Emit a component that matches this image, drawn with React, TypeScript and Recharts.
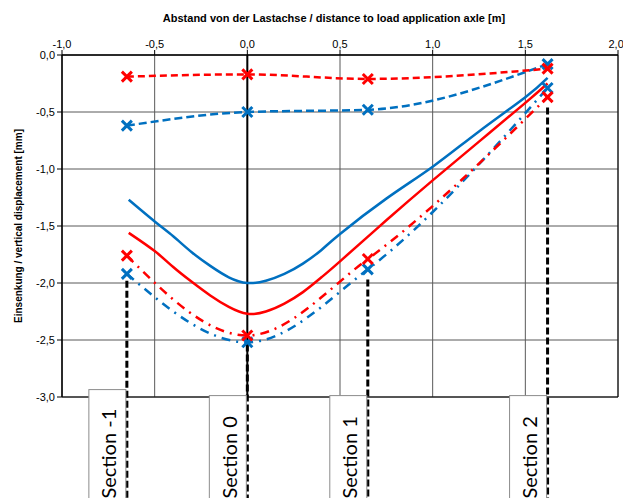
import { LineChart, Line, XAxis, YAxis, CartesianGrid, ReferenceLine, ReferenceArea } from 'recharts'

// ── Data ─────────────────────────────────────────────────────────────────────

const sectionX = [-0.65, 0, 0.65, 1.62]
const sectionNames = ['Section -1', 'Section 0', 'Section 1', 'Section 2']
const sectionStartY = [-1.98, -2.54, -1.97, -0.46]

// measured (markers)
const redDashed = [-0.19, -0.17, -0.21, -0.12]
const blueDashed = [-0.62, -0.5, -0.48, -0.08]
const redDashDot = [-1.76, -2.46, -1.79, -0.37]
const blueDashDot = [-1.92, -2.52, -1.88, -0.29]

// calculated curves (solid)
const calcX = [-0.64, -0.5, -0.4, -0.3, -0.2, -0.1, 0, 0.1, 0.2, 0.3, 0.4, 0.5, 0.75, 1.0, 1.25, 1.5, 1.62]
const blueCalc = [-1.27, -1.46, -1.59, -1.73, -1.85, -1.95, -2.0, -1.98, -1.92, -1.83, -1.71, -1.57, -1.26, -0.98, -0.67, -0.37, -0.2]
const redCalc = [-1.56, -1.72, -1.86, -1.99, -2.11, -2.21, -2.27, -2.25, -2.18, -2.08, -1.95, -1.81, -1.45, -1.1, -0.76, -0.42, -0.25]

const xTicks = [-1, -0.5, 0, 0.5, 1, 1.5, 2]
const yTicks = [0, -0.5, -1, -1.5, -2, -2.5, -3]

const RED = '#ff0000'
const BLUE = '#0070c0'
const SECTION_BOTTOM = -3.9

const rows = (xs: number[], ys: number[]) => xs.map((x, i) => ({ x, y: ys[i] }))

const fmt = (v: number) => v.toFixed(1).replace('.', ',')

// ── Marks ────────────────────────────────────────────────────────────────────

function XMark({ cx, cy, color }: any) {
  if (cx == null || cy == null) return null
  const s = 5
  return (
    <path
      d={`M${cx - s},${cy - s}L${cx + s},${cy + s}M${cx - s},${cy + s}L${cx + s},${cy - s}`}
      stroke={color}
      strokeWidth={3}
      fill="none"
    />
  )
}

function SectionLabel({ viewBox, text }: any) {
  if (!viewBox) return null
  const right = viewBox.x - 1
  const bottom = viewBox.y + viewBox.height
  const w = 37
  const boxH = text.length > 9 ? 110 : 104
  return (
    <g>
      <rect x={right - w} y={bottom - boxH} width={w} height={boxH + 10} fill="#fff" stroke="#8c8c8c" />
      <text
        transform={`translate(${right - w / 2 + 1},${bottom - 1}) rotate(-90)`}
        textAnchor="start"
        dominantBaseline="central"
        fontFamily="Lato"
        fontSize={20}
        fill="#000"
      >
        {text}
      </text>
    </g>
  )
}

function XTitle({ viewBox }: any) {
  return (
    <text x={viewBox.x + viewBox.width / 2 - 6} y={18} textAnchor="middle" dominantBaseline="central"
      fontFamily="Liberation Sans" fontSize={11} fontWeight="bold" fill="#000">
      Abstand von der Lastachse / distance to load application axle [m]
    </text>
  )
}

function YTitle({ viewBox }: any) {
  const x = 18
  const y = viewBox.y + viewBox.height / 2
  return (
    <text x={x} y={y} transform={`rotate(-90,${x},${y})`} textAnchor="middle" dominantBaseline="central"
      fontFamily="Liberation Sans" fontSize={10} fontWeight="bold" fill="#000">
      Einsenkung / vertical displacement [mm]
    </text>
  )
}

const tickStyle = { fill: '#000', stroke: 'none', fontSize: 11, fontFamily: 'Liberation Sans' }

export default function App() {
  return (
    <div style={{ position: 'absolute', left: 0, top: 0, width: 623, height: 498, background: '#fff', overflow: 'hidden' }}>
      <LineChart width={623} height={498} margin={{ top: 0, right: 5, bottom: 101, left: 0 }}>
        <CartesianGrid stroke="#595959" strokeWidth={1} />
        <XAxis
          dataKey="x"
          type="number"
          orientation="top"
          domain={[-1, 2]}
          ticks={xTicks}
          tickFormatter={fmt}
          height={55}
          tick={tickStyle}
          tickSize={5}
          stroke="#000"
          label={<XTitle />}
        />
        <YAxis
          type="number"
          domain={[-3, 0]}
          ticks={yTicks}
          tickFormatter={fmt}
          width={62}
          tick={tickStyle}
          tickSize={5}
          stroke="#000"
          label={<YTitle />}
        />
        <ReferenceArea x1={-1} x2={2} y1={-3} y2={0} fill="none" stroke="#000" strokeWidth={1} />
        <ReferenceLine x={0} stroke="#000" strokeWidth={2} />

        {sectionX.map((sx, i) => (
          <ReferenceLine
            key={sectionNames[i]}
            segment={[{ x: sx, y: sectionStartY[i] }, { x: sx, y: SECTION_BOTTOM }]}
            ifOverflow="visible"
            stroke="#000"
            strokeWidth={3}
            strokeDasharray="7 3"
            label={<SectionLabel text={sectionNames[i]} />}
          />
        ))}

        <Line data={rows(calcX, blueCalc)} dataKey="y" type="natural" stroke={BLUE} strokeWidth={2.5} dot={false} isAnimationActive={false} />
        <Line data={rows(calcX, redCalc)} dataKey="y" type="natural" stroke={RED} strokeWidth={2.5} dot={false} isAnimationActive={false} />

        <Line data={rows(sectionX, blueDashDot)} dataKey="y" type="monotone" stroke={BLUE} strokeWidth={2.5}
          strokeDasharray="9 6 2 6" dot={<XMark color={BLUE} />} isAnimationActive={false} />
        <Line data={rows(sectionX, redDashDot)} dataKey="y" type="monotone" stroke={RED} strokeWidth={2.5}
          strokeDasharray="9 6 2 6" dot={<XMark color={RED} />} isAnimationActive={false} />

        <Line data={rows(sectionX, blueDashed)} dataKey="y" type="monotone" stroke={BLUE} strokeWidth={2.5}
          strokeDasharray="8 4" dot={<XMark color={BLUE} />} isAnimationActive={false} />
        <Line data={rows(sectionX, redDashed)} dataKey="y" type="monotone" stroke={RED} strokeWidth={2.5}
          strokeDasharray="7 4" dot={<XMark color={RED} />} isAnimationActive={false} />
      </LineChart>
    </div>
  )
}
